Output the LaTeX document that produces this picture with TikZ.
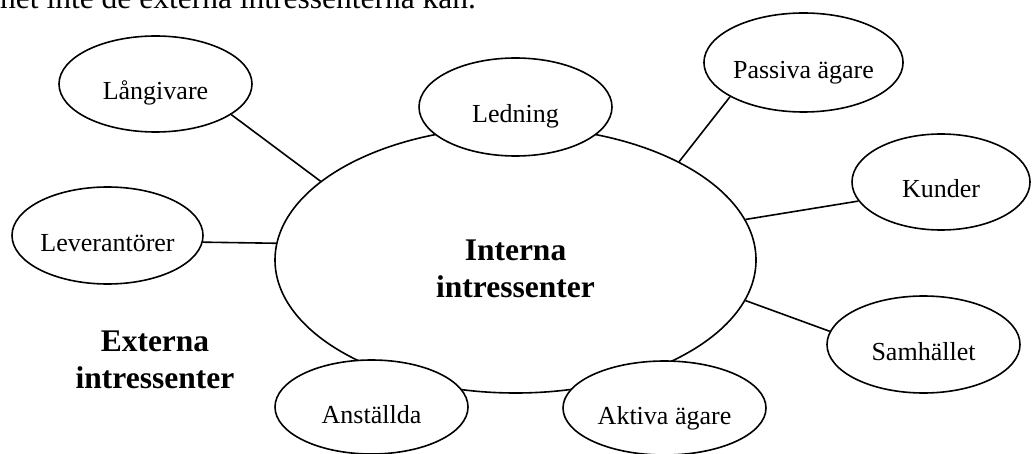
\documentclass[tikz,border=0pt]{standalone}
\usepackage{fontspec}
\setmainfont{Liberation Serif}
\usetikzlibrary{shapes.geometric}
\tikzset{
  stake/.style={ellipse, draw, fill=white, line width=1.6pt, inner sep=0pt,
    text height=32pt, text depth=0pt,
    font=\fontsize{26}{30}\selectfont},
  link/.style={line width=1.6pt},
  boldlabel/.style={align=center, font=\fontsize{31.5}{37}\selectfont\bfseries, inner sep=0pt}
}
\begin{document}
\begin{tikzpicture}[x=1pt,y=-1pt]
\clip (0,0) rectangle (1032,454);
\fill[white] (0,0) rectangle (1032,454);
% cut-off line of running text at the top
\node[anchor=base west, inner sep=0pt, font=\fontsize{31.5}{36}\selectfont] (toptext) at (0,8.5) {het inte de externa intressenterna kan.};
% central ellipse
\node[stake, minimum width=481pt, minimum height=266pt] (big) at (515.5,260) {};
\node[boldlabel] (intlabel) at (515.5,269) {Interna\\intressenter};
% stakeholders
\node[stake, minimum width=193pt, minimum height=96pt] (lang) at (155.5,84) {Långivare};
\node[stake, minimum width=191pt, minimum height=97pt] (lev) at (107.5,235.5) {Leverantörer};
\node[stake, minimum width=193pt, minimum height=98pt] (led) at (515.5,107) {Ledning};
\node[stake, minimum width=193pt, minimum height=99pt] (pas) at (803.5,62.5) {Passiva ägare};
\node[stake, minimum width=178pt, minimum height=96pt] (kun) at (941,182) {Kunder};
\node[stake, minimum width=193pt, minimum height=97pt] (sam) at (923.5,344.5) {Samhället};
\node[stake, minimum width=193pt, minimum height=94pt] (ans) at (371.5,407) {Anställda};
\node[stake, minimum width=203pt, minimum height=94pt] (akt) at (664.5,408) {Aktiva ägare};
% external label
\node[boldlabel] (extlabel) at (155,360) {Externa\\intressenter};
% connectors
\draw[link] (lang.-22) -- (big.158);
\draw[link] (lev.-4) -- (big.176);
\draw[link] (pas.205) -- (big.31.5);
\draw[link] (kun.193.5) -- (big.10.3);
\draw[link] (sam.172.4) -- (big.-10.3);
\end{tikzpicture}
\end{document}
